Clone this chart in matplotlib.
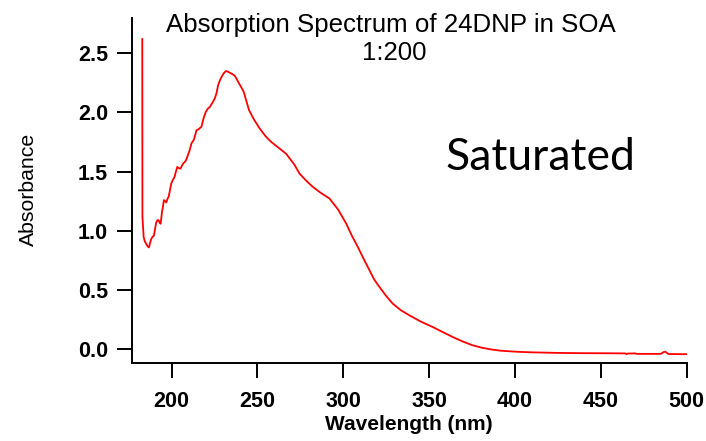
import matplotlib
matplotlib.use("Agg")
import matplotlib.pyplot as plt

# spectrum (nm, absorbance)
wavelength = [182.9, 183.0, 183.7, 184.4, 185.2, 186.0, 186.8, 187.5, 188.1, 188.9,
              189.7, 190.4, 191.0, 191.7, 192.4, 193.0, 193.6, 194.4, 195.0, 195.5,
              196.2, 196.9, 197.6, 198.3, 199.0, 199.8, 200.7, 201.7, 202.5, 203.3,
              204.2, 205.2, 206.0, 206.8, 207.6, 208.5, 209.5, 210.5, 211.6, 213.0,
              214.5, 215.9, 216.6, 217.4, 218.6, 219.9, 221.0, 222.3, 223.7, 225.2,
              226.1, 227.1, 228.1, 229.1, 230.3, 231.6, 232.7, 233.9, 235.3, 236.8,
              238.0, 239.3, 240.7, 242.0, 243.5, 245.1, 248.0, 251.3, 254.7, 258.1,
              262.5, 266.8, 271.5, 274.5, 278.0, 282.3, 287.0, 292.0, 297.0, 301.7,
              305.0, 308.5, 312.0, 315.3, 318.0, 321.1, 325.0, 328.8, 333.5, 338.5,
              345.0, 352.1, 358.0, 363.7, 369.5, 375.3, 381.0, 386.9, 391.5, 396.6,
              402.4, 410.0, 425.0, 440.0, 455.0, 464.5, 465.0, 466.0, 470.0, 471.0,
              480.0, 485.0, 486.5, 487.5, 488.5, 489.5, 500.0]
absorbance = [2.62, 1.12, 0.95, 0.91, 0.89, 0.87, 0.86, 0.90, 0.93, 0.95,
              0.96, 1.02, 1.07, 1.09, 1.09, 1.07, 1.06, 1.16, 1.21, 1.26,
              1.25, 1.24, 1.27, 1.29, 1.34, 1.40, 1.43, 1.455, 1.50, 1.54,
              1.53, 1.525, 1.55, 1.57, 1.58, 1.60, 1.64, 1.68, 1.74, 1.77,
              1.85, 1.86, 1.87, 1.88, 1.95, 2.005, 2.03, 2.047, 2.08, 2.12,
              2.16, 2.23, 2.27, 2.30, 2.33, 2.35, 2.345, 2.335, 2.325, 2.31,
              2.28, 2.245, 2.21, 2.175, 2.10, 2.02, 1.94, 1.865, 1.80, 1.75,
              1.70, 1.65, 1.56, 1.484, 1.43, 1.371, 1.32, 1.273, 1.18, 1.062,
              0.96, 0.864, 0.76, 0.667, 0.59, 0.526, 0.45, 0.386, 0.33, 0.287,
              0.235, 0.188, 0.145, 0.104, 0.066, 0.034, 0.012, -0.003, -0.012, -0.017,
              -0.022, -0.026, -0.031, -0.033, -0.034, -0.035, -0.041, -0.036, -0.035, -0.039,
              -0.039, -0.039, -0.025, -0.020, -0.030, -0.040, -0.042]

xticks = [200, 250, 300, 350, 400, 450, 500]
yticks = [0.0, 0.5, 1.0, 1.5, 2.0, 2.5]

plt.rcParams["font.family"] = ["Liberation Sans", "DejaVu Sans"]

fig = plt.figure(figsize=(7.06, 4.41), dpi=100, facecolor="white")
ax = fig.add_axes([0.1874, 0.1769, 0.785, 0.7823])
ax.plot(wavelength, absorbance, color="#ff0000", lw=1.3)

ax.set_xlim(177.1, 500)
ax.set_ylim(-0.116, 2.798)
ax.set_xticks(xticks)
ax.set_yticks(yticks)
ax.set_yticklabels([f"{v:.1f}" for v in yticks])
for s in ["top", "right"]:
    ax.spines[s].set_visible(False)
for s in ["left", "bottom"]:
    ax.spines[s].set_linewidth(1.4)
ax.tick_params(axis="both", direction="out", length=11, width=1.4, labelsize=15.5)
ax.tick_params(axis="x", pad=9)
ax.tick_params(axis="y", pad=6.5)
for lab in ax.get_xticklabels() + ax.get_yticklabels():
    lab.set_fontweight("bold")

fig.text(391 / 706, 1 - 31.7 / 441, "Absorption Spectrum of 24DNP in SOA",
         ha="center", va="baseline", fontsize=18.6)
fig.text(394.5 / 706, 1 - 60 / 441, "1:200", ha="center", va="baseline", fontsize=18.6)
fig.text(409 / 706, 1 - 424 / 441, "Wavelength (nm)", ha="center", va="center",
         fontsize=15, fontweight="bold")
fig.text(28 / 706, 1 - 189 / 441, "Absorbance", ha="center", va="center",
         rotation=90, fontsize=15.3)
fig.text(540.5 / 706, 1 - 170 / 441, "Saturated", ha="center", va="baseline",
         fontsize=32, family=["Lato", "DejaVu Sans"])

fig.savefig("out.png", dpi=100, facecolor="white")
